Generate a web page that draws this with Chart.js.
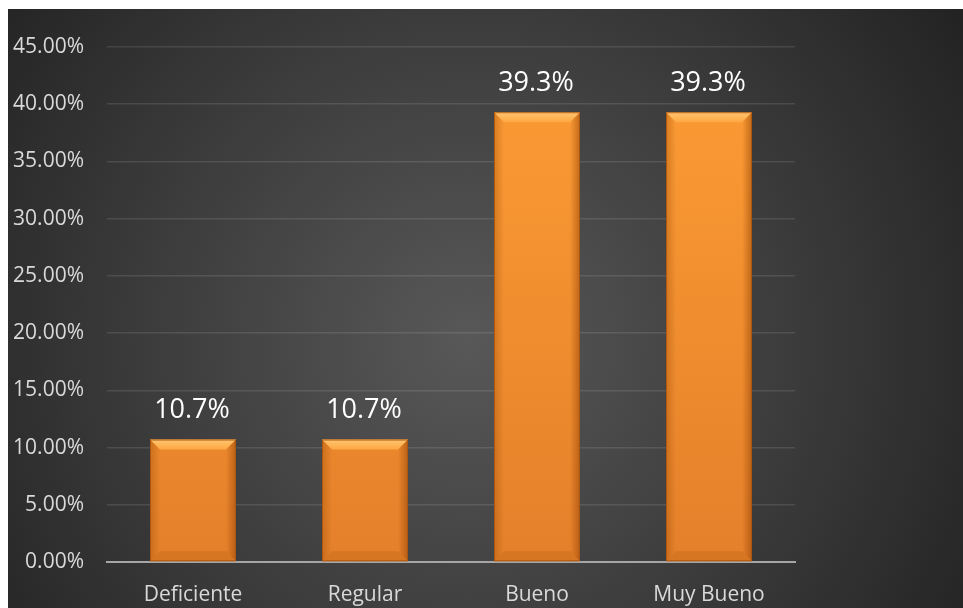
<!DOCTYPE html>
<html>
<head>
<meta charset="utf-8">
<script src="https://cdn.jsdelivr.net/npm/chart.js@4.4.1/dist/chart.umd.min.js"></script>
<style>
  html, body { margin: 0; padding: 0; background: #ffffff; width: 963px; height: 608px; overflow: hidden; }
  #wrap { position: absolute; left: 8px; top: 9px; width: 955px; height: 599px; }
  canvas { display: block; }
</style>
</head>
<body>
<div id="wrap"><canvas id="c" width="955" height="599"></canvas></div>
<script>
const categories = ['Deficiente', 'Regular', 'Bueno', 'Muy Bueno'];
const values = [10.7, 10.7, 39.3, 39.3];
const yTicks = [0, 5, 10, 15, 20, 25, 30, 35, 40, 45];

const bgPlugin = {
  id: 'bg',
  beforeDraw(chart) {
    const ctx = chart.ctx, w = chart.width, h = chart.height;
    ctx.save();
    const g = ctx.createRadialGradient(460, 330, 0, 460, 330, 600);
    g.addColorStop(0, '#585858');
    g.addColorStop(0.55, '#3b3b3b');
    g.addColorStop(1, '#222222');
    ctx.fillStyle = g;
    ctx.fillRect(0, 0, w, h);
    ctx.restore();
  }
};

const bevelPlugin = {
  id: 'bevel',
  afterDatasetsDraw(chart) {
    const ctx = chart.ctx;
    const meta = chart.getDatasetMeta(0);
    meta.data.forEach((bar, i) => {
      const p = bar.getProps(['x', 'y', 'base', 'width'], true);
      const x0 = p.x - p.width / 2, x1 = p.x + p.width / 2;
      const y0 = p.y, y1 = p.base;
      const b = 10;
      ctx.save();
      // top bevel
      let g = ctx.createLinearGradient(0, y0, 0, y0 + b);
      g.addColorStop(0, '#ffc570');
      g.addColorStop(1, '#ffa842');
      ctx.fillStyle = g;
      ctx.beginPath();
      ctx.moveTo(x0, y0); ctx.lineTo(x1, y0); ctx.lineTo(x1 - b, y0 + b); ctx.lineTo(x0 + b, y0 + b); ctx.closePath();
      ctx.fill();
      // left bevel
      g = ctx.createLinearGradient(x0, 0, x0 + b, 0);
      g.addColorStop(0, 'rgba(150,70,0,0.35)');
      g.addColorStop(1, 'rgba(150,70,0,0.0)');
      ctx.fillStyle = g;
      ctx.beginPath();
      ctx.moveTo(x0, y0); ctx.lineTo(x0 + b, y0 + b); ctx.lineTo(x0 + b, y1 - b); ctx.lineTo(x0, y1); ctx.closePath();
      ctx.fill();
      // right bevel
      g = ctx.createLinearGradient(x1 - b, 0, x1, 0);
      g.addColorStop(0, 'rgba(140,60,0,0.0)');
      g.addColorStop(1, 'rgba(140,60,0,0.5)');
      ctx.fillStyle = g;
      ctx.beginPath();
      ctx.moveTo(x1, y0); ctx.lineTo(x1, y1); ctx.lineTo(x1 - b, y1 - b); ctx.lineTo(x1 - b, y0 + b); ctx.closePath();
      ctx.fill();
      // bottom bevel
      ctx.fillStyle = 'rgba(150,70,0,0.18)';
      ctx.beginPath();
      ctx.moveTo(x0, y1); ctx.lineTo(x0 + b, y1 - b); ctx.lineTo(x1 - b, y1 - b); ctx.lineTo(x1, y1); ctx.closePath();
      ctx.fill();
      // outline
      ctx.strokeStyle = 'rgba(170,85,15,0.9)';
      ctx.lineWidth = 1;
      ctx.strokeRect(x0 + 0.5, y0 + 0.5, p.width - 1, y1 - y0 - 1);
      // data label
      ctx.fillStyle = '#ffffff';
      ctx.font = '27px "Open Sans"';
      ctx.textAlign = 'center';
      ctx.textBaseline = 'middle';
      ctx.fillText(values[i].toFixed(1) + '%', p.x - 1, y0 - 29);
      ctx.restore();
    });
  }
};

new Chart(document.getElementById('c'), {
  type: 'bar',
  data: {
    labels: categories,
    datasets: [{
      data: values,
      backgroundColor: (c) => {
        const area = c.chart.chartArea;
        if (!area) return '#f7952f';
        const g = c.chart.ctx.createLinearGradient(0, area.top, 0, area.bottom);
        g.addColorStop(0, '#fd9d35');
        g.addColorStop(1, '#e4802a');
        return g;
      },
      borderWidth: 0,
      barPercentage: 0.5,
      categoryPercentage: 1.0
    }]
  },
  options: {
    responsive: false,
    animation: false,
    events: [],
    layout: { padding: { top: 38, right: 168, bottom: 0, left: 0 } },
    plugins: { legend: { display: false }, tooltip: { enabled: false } },
    scales: {
      x: {
        grid: { display: false, drawTicks: false },
        border: { display: true, color: '#a6a6a6', width: 2 },
        ticks: { color: '#d9d9d9', font: { family: 'Open Sans', size: 21 }, padding: 20 },
        afterFit(s) { s.height = 46; }
      },
      y: {
        min: 0, max: 45,
        afterBuildTicks(s) { s.ticks = yTicks.map(v => ({ value: v })); },
        grid: {
          drawTicks: false,
          color: (c) => c.tick && c.tick.value === 0 ? 'rgba(0,0,0,0)' : 'rgba(255,255,255,0.11)',
          lineWidth: 1.5
        },
        border: { display: false },
        ticks: {
          color: '#d9d9d9',
          font: { family: 'Open Sans', size: 21 },
          padding: 23,
          callback: (v) => Number(v).toFixed(2) + '%'
        },
        afterFit(s) { s.width = 99; }
      }
    }
  },
  plugins: [bgPlugin, bevelPlugin]
});
</script>
</body>
</html>
